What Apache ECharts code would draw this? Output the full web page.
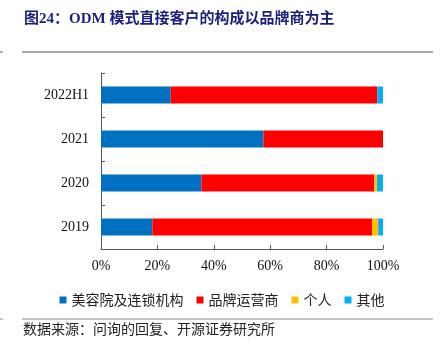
<!DOCTYPE html>
<html>
<head>
<meta charset="utf-8">
<script src="https://cdn.jsdelivr.net/npm/echarts@6/dist/echarts.min.js"></script>
<style>
  html, body { margin: 0; padding: 0; background: #fff; }
  #charts { width: 444px; height: 350px; }
</style>
</head>
<body>
<div id="charts"></div>
<script>
// categories bottom to top
const years = ['2019', '2020', '2021', '2022H1'];
const salon = [18.2, 35.6, 57.6, 24.7];
const brand = [77.9, 61.3, 42.4, 73.3];
const person = [2.2, 1.0, 0, 0];
const other = [1.7, 2.1, 0, 2.0];
const xTicks = [0, 20, 40, 60, 80, 100];

const serif = '"Liberation Serif", "Noto Sans CJK SC", serif';
const cjk = '"Noto Sans CJK SC", sans-serif';

const makeSeries = (name, data, color) => ({
  name,
  type: 'bar',
  stack: 'total',
  data,
  barWidth: 17,
  itemStyle: { color },
  emphasis: { disabled: true }
});

const myChart = echarts.init(document.querySelector('#charts'));
myChart.setOption({
  animation: false,
  backgroundColor: '#fff',
  title: [{
    text: '图24：ODM 模式直接客户的构成以品牌商为主',
    left: 24, top: 12, padding: 0,
    textStyle: { color: '#1c1f7a', fontSize: 15, fontWeight: 'bold', fontFamily: serif }
  }, {
    text: '数据来源：问询的回复、开源证券研究所',
    left: 23, top: 322, padding: 0,
    textStyle: { color: '#222', fontSize: 14, fontWeight: 'normal', fontFamily: cjk }
  }],
  graphic: [
    { type: 'line', shape: { x1: 22, y1: 52, x2: 433, y2: 52 }, style: { stroke: '#555', lineWidth: 1 } },
    { type: 'line', shape: { x1: 0, y1: 52, x2: 3, y2: 52 }, style: { stroke: '#555', lineWidth: 1 } },
    { type: 'line', shape: { x1: 22, y1: 319, x2: 433, y2: 319 }, style: { stroke: '#888', lineWidth: 1 } },
    { type: 'line', shape: { x1: 0, y1: 319, x2: 3, y2: 319 }, style: { stroke: '#888', lineWidth: 1 } }
  ],
  legend: {
    top: 288, left: 'center',
    itemWidth: 7, itemHeight: 7, itemGap: 13,
    icon: 'rect',
    textStyle: { fontSize: 14, color: '#222', fontFamily: cjk },
    data: ['美容院及连锁机构', '品牌运营商', '个人', '其他']
  },
  grid: { left: 101, right: 61, top: 73, bottom: 101 },
  xAxis: {
    type: 'value',
    min: 0, max: 100, interval: 20,
    axisLine: { show: true, lineStyle: { color: '#555' } },
    axisTick: { show: true, inside: true, length: 4, lineStyle: { color: '#555' } },
    splitLine: { show: false },
    axisLabel: { formatter: v => xTicks.includes(v) ? v + '%' : '', color: '#111', fontSize: 14, fontFamily: serif, margin: 10 }
  },
  yAxis: {
    type: 'category',
    data: years,
    axisLine: { show: true, lineStyle: { color: '#555' } },
    axisTick: { show: true, inside: true, length: 4, lineStyle: { color: '#555' } },
    axisLabel: { color: '#111', fontSize: 14, fontFamily: serif, margin: 12 }
  },
  series: [
    makeSeries('美容院及连锁机构', salon, '#0070c0'),
    makeSeries('品牌运营商', brand, '#ff0000'),
    makeSeries('个人', person, '#ffc000'),
    makeSeries('其他', other, '#00b0f0')
  ]
});
</script>
</body>
</html>
